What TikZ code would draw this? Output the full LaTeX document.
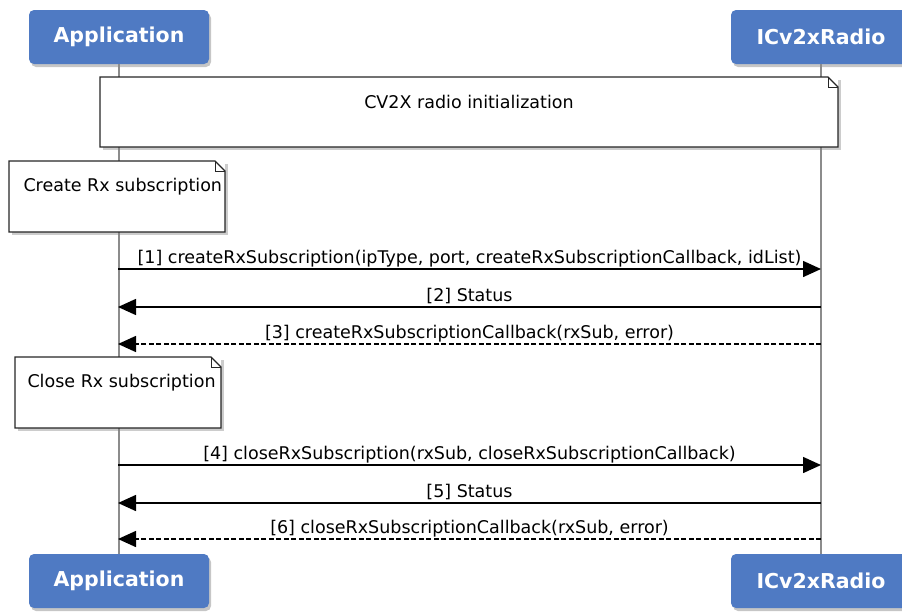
\documentclass[tikz,border=0pt]{standalone}
\usepackage{fontspec}
\setmainfont{DejaVu Sans}
\usepackage{tikz}
\usetikzlibrary{arrows.meta, shadows}
\usepackage{xcolor}
\definecolor{headblue}{RGB}{79,122,195}
\definecolor{lifegray}{RGB}{140,140,140}

\begin{document}
\begin{tikzpicture}[
    x=1pt, y=-1pt,
    font=\fontsize{17.5}{21}\selectfont,
    head/.style={rectangle, rounded corners=5pt, fill=headblue, text=white,
      minimum width=180pt, minimum height=54pt, inner sep=0pt,
      font=\fontsize{20.5}{24}\selectfont\bfseries,
      drop shadow={shadow xshift=2pt, shadow yshift=-3pt, opacity=.45}},
    note/.style={rectangle, fill=white, anchor=north west, inner sep=0pt, outer sep=0pt,
      drop shadow={shadow xshift=3pt, shadow yshift=-3pt, opacity=.4}},
    noteline/.style={draw=black!85, line width=1.2pt, line join=miter},
    life/.style={draw=lifegray, line width=1.6pt},
    msg/.style={line width=1.5pt},
    reply/.style={line width=1.5pt, dash pattern=on 5pt off 2.5pt},
    tip/.style={-{Triangle[length=18pt, width=16pt]}},
    msgtext/.style={midway, anchor=base, yshift=6pt, inner sep=0pt}
]
  \useasboundingbox (0,0) rectangle (902,611);

  % --- PARTICIPANTS ---
  \node[head] (app)   at (119,37)  {Application};
  \node[head] (radio) at (821,37)  {ICv2xRadio};
  \node[head] (appb)  at (119,581) {Application};
  \node[head] (radiob) at (821,581) {ICv2xRadio};

  % --- LIFELINES ---
  \draw[life] (app) -- (appb);
  \draw[life] (radio) -- (radiob);

  % --- NOTES ---
  \node[note, minimum width=738pt, minimum height=70pt,
        label={[anchor=base, yshift=-31pt]north:CV2X radio initialization}]
        (init) at (100,77) {};
  \node[note, minimum width=216pt, minimum height=71pt,
        label={[anchor=base west, xshift=11pt, yshift=-30pt]north west:Create Rx subscription}]
        (create) at (9,161) {};
  \node[note, minimum width=206pt, minimum height=71pt,
        label={[anchor=base west, xshift=9pt, yshift=-30pt]north west:Close Rx subscription}]
        (close) at (15,357) {};

  \foreach \n in {init, create, close} {
    \draw[noteline] (\n.north west) -- ([xshift=-10pt]\n.north east)
      -- ([yshift=-10pt]\n.north east) -- (\n.south east) -- (\n.south west) -- cycle;
    \draw[noteline, line width=.8pt] ([xshift=-10pt]\n.north east)
      |- ([yshift=-10pt]\n.north east);
  }

  % --- MESSAGE POINTS ON THE LIFELINES ---
  \foreach \i/\y in {1/269, 2/307, 3/344, 4/465, 5/503, 6/539} {
    \coordinate (a\i) at (118,\y);
    \coordinate (r\i) at (821,\y);
  }

  % --- MESSAGES ---
  \draw[msg, tip] (a1) -- node[msgtext]
    {[1] createRxSubscription(ipType, port, createRxSubscriptionCallback, idList)} (r1);
  \draw[msg, tip] (r2) -- node[msgtext] {[2] Status} (a2);
  \draw[reply, tip] (r3) -- node[msgtext]
    {[3] createRxSubscriptionCallback(rxSub, error)} (a3);

  \draw[msg, tip] (a4) -- node[msgtext]
    {[4] closeRxSubscription(rxSub, closeRxSubscriptionCallback)} (r4);
  \draw[msg, tip] (r5) -- node[msgtext] {[5] Status} (a5);
  \draw[reply, tip] (r6) -- node[msgtext]
    {[6] closeRxSubscriptionCallback(rxSub, error)} (a6);
\end{tikzpicture}
\end{document}
